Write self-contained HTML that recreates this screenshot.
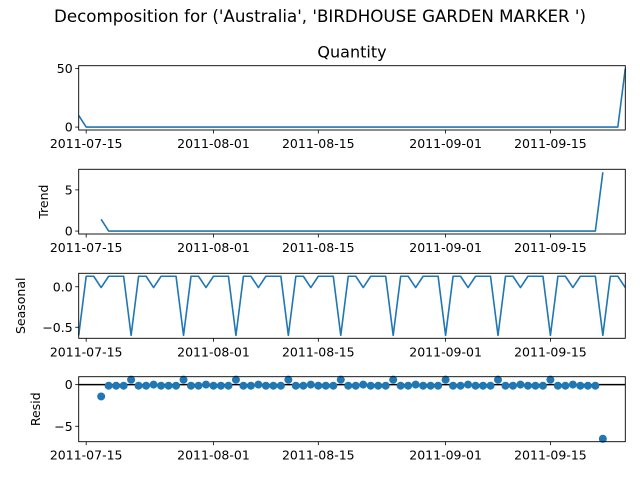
<!DOCTYPE html>
<html><head><meta charset="utf-8"><style>
body{margin:0;background:#fff}
svg text{font-family:"DejaVu Sans","Liberation Sans",sans-serif;fill:#000}
</style></head><body>
<svg id="chart" width="640" height="480" xmlns="http://www.w3.org/2000/svg">
<text x="320" y="22" font-size="16.5" text-anchor="middle" textLength="532" lengthAdjust="spacingAndGlyphs">Decomposition for ('Australia', 'BIRDHOUSE GARDEN MARKER ')</text>
</svg>
<script>
const startDate = "2011-07-14";
const quantity = [10,0,0,0,0,0,0,0,0,0,0,0,0,0,0,0,0,0,0,0,0,0,0,0,0,0,0,0,0,0,0,0,0,0,0,0,0,0,0,0,0,0,0,0,0,0,0,0,0,0,0,0,0,0,0,0,0,0,0,0,0,0,0,0,0,0,0,0,0,0,0,0,0,50];
const trend = [null,null,null,1.43,0,0,0,0,0,0,0,0,0,0,0,0,0,0,0,0,0,0,0,0,0,0,0,0,0,0,0,0,0,0,0,0,0,0,0,0,0,0,0,0,0,0,0,0,0,0,0,0,0,0,0,0,0,0,0,0,0,0,0,0,0,0,0,0,0,0,7.14,null,null,null];
const seasonal = [-0.6,0.13,0.13,-0.01,0.13,0.13,0.13,-0.6,0.13,0.13,-0.01,0.13,0.13,0.13,-0.6,0.13,0.13,-0.01,0.13,0.13,0.13,-0.6,0.13,0.13,-0.01,0.13,0.13,0.13,-0.6,0.13,0.13,-0.01,0.13,0.13,0.13,-0.6,0.13,0.13,-0.01,0.13,0.13,0.13,-0.6,0.13,0.13,-0.01,0.13,0.13,0.13,-0.6,0.13,0.13,-0.01,0.13,0.13,0.13,-0.6,0.13,0.13,-0.01,0.13,0.13,0.13,-0.6,0.13,0.13,-0.01,0.13,0.13,0.13,-0.6,0.13,0.13,-0.01];
const resid = [null,null,null,-1.42,-0.13,-0.13,-0.13,0.6,-0.13,-0.13,0.01,-0.13,-0.13,-0.13,0.6,-0.13,-0.13,0.01,-0.13,-0.13,-0.13,0.6,-0.13,-0.13,0.01,-0.13,-0.13,-0.13,0.6,-0.13,-0.13,0.01,-0.13,-0.13,-0.13,0.6,-0.13,-0.13,0.01,-0.13,-0.13,-0.13,0.6,-0.13,-0.13,0.01,-0.13,-0.13,-0.13,0.6,-0.13,-0.13,0.01,-0.13,-0.13,-0.13,0.6,-0.13,-0.13,0.01,-0.13,-0.13,-0.13,0.6,-0.13,-0.13,0.01,-0.13,-0.13,-0.13,-6.5,null,null,null];
const xTickLabels = ["2011-07-15","2011-08-01","2011-08-15","2011-09-01","2011-09-15"];
const qTicks = [0,50], trendTicks = [0,5], seasTicks = [0.0,-0.5], residTicks = [0,-5];

const NS="http://www.w3.org/2000/svg", svg=document.getElementById('chart');
const X0=78.7, X1=625.3, C="#1f77b4", FS=12.5;
const t0=new Date(startDate+"T00:00:00Z").getTime();
const nDays=quantity.length-1;
function dayIdx(s){return (new Date(s+"T00:00:00Z").getTime()-t0)/86400000;}
function xs(i){return X0+(X1-X0)*i/nDays;}
function mk(tag,attrs,parent){const e=document.createElementNS(NS,tag);for(const k in attrs)e.setAttribute(k,attrs[k]);(parent||svg).appendChild(e);return e;}

function panel(key,top,bot,data,ticks,fmt,label,labelX,kind,title){
  const g=mk('g',{});
  
  
  const vals=data.filter(v=>v!==null);
  let mn=Math.min(...vals),mx=Math.max(...vals);
  if(kind==='dots'){mn=Math.min(mn,0);mx=Math.max(mx,0);}
  const pad=(mx-mn)*0.05; const lo=mn-pad, hi=mx+pad;
  const ys=v=>bot-(v-lo)/(hi-lo)*(bot-top);
  if(kind==='dots'){
    const zl=mk('line',{x1:X0,x2:X1,y1:ys(0),y2:ys(0),stroke:'#000','stroke-width':1.5},g);
    
    
    data.forEach((v,i)=>{if(v===null)return;
      const c=mk('circle',{cx:xs(i),cy:ys(v),r:4,fill:C},g);
      
      
    });
  } else {
    let d='';let pen=false;
    data.forEach((v,i)=>{if(v===null){pen=false;return;}d+=(pen?'L':'M')+xs(i).toFixed(2)+','+ys(v).toFixed(2);pen=true;});
    const p=mk('path',{d:d,fill:'none',stroke:C,'stroke-width':1.6,'stroke-linejoin':'round'},g);
    
    
  }
  const fr=mk('rect',{x:X0,y:top,width:X1-X0,height:bot-top,fill:'none',stroke:'#000','stroke-width':0.9},g);
  
  
  ticks.forEach(t=>{const y=ys(t);
    mk('line',{x1:X0-3.5,x2:X0,y1:y,y2:y,stroke:'#000','stroke-width':0.8},g);
    const tx=mk('text',{x:X0-6,y:y+4.5,'font-size':FS,'text-anchor':'end'},g);
    tx.textContent=fmt(t);
    
    
  });
  xTickLabels.forEach(s=>{const x=xs(dayIdx(s));
    mk('line',{x1:x,x2:x,y1:bot,y2:bot+3.5,stroke:'#000','stroke-width':0.8},g);
    const tx=mk('text',{x:x,y:bot+18,'font-size':FS,'text-anchor':'middle'},g);
    tx.textContent=s;
    
    
  });
  if(label){const cy=(top+bot)/2;
    const l=mk('text',{x:labelX,y:cy,'font-size':FS,'text-anchor':'middle',transform:`rotate(-90 ${labelX} ${cy})`},g);
    l.textContent=label;
    
    
  }
  if(title){const t=mk('text',{x:(X0+X1)/2,y:top-8,'font-size':16,'text-anchor':'middle'},g);
    t.textContent=title;
    
    
  }
}
const fi=v=>v<0?'\u2212'+Math.abs(v):String(v);
const f1=v=>v<0?'\u2212'+Math.abs(v).toFixed(1):v.toFixed(1);
panel('quantity',65.7,130,quantity,qTicks,fi,null,0,'line','Quantity');
panel('trend',169.3,234,trend,trendTicks,fi,'Trend',48,'line');
panel('seasonal',273.3,338.3,seasonal,seasTicks,f1,'Seasonal',25,'line');
panel('resid',376.7,441.7,resid,residTicks,fi,'Resid',40,'dots');
</script>
</body></html>
